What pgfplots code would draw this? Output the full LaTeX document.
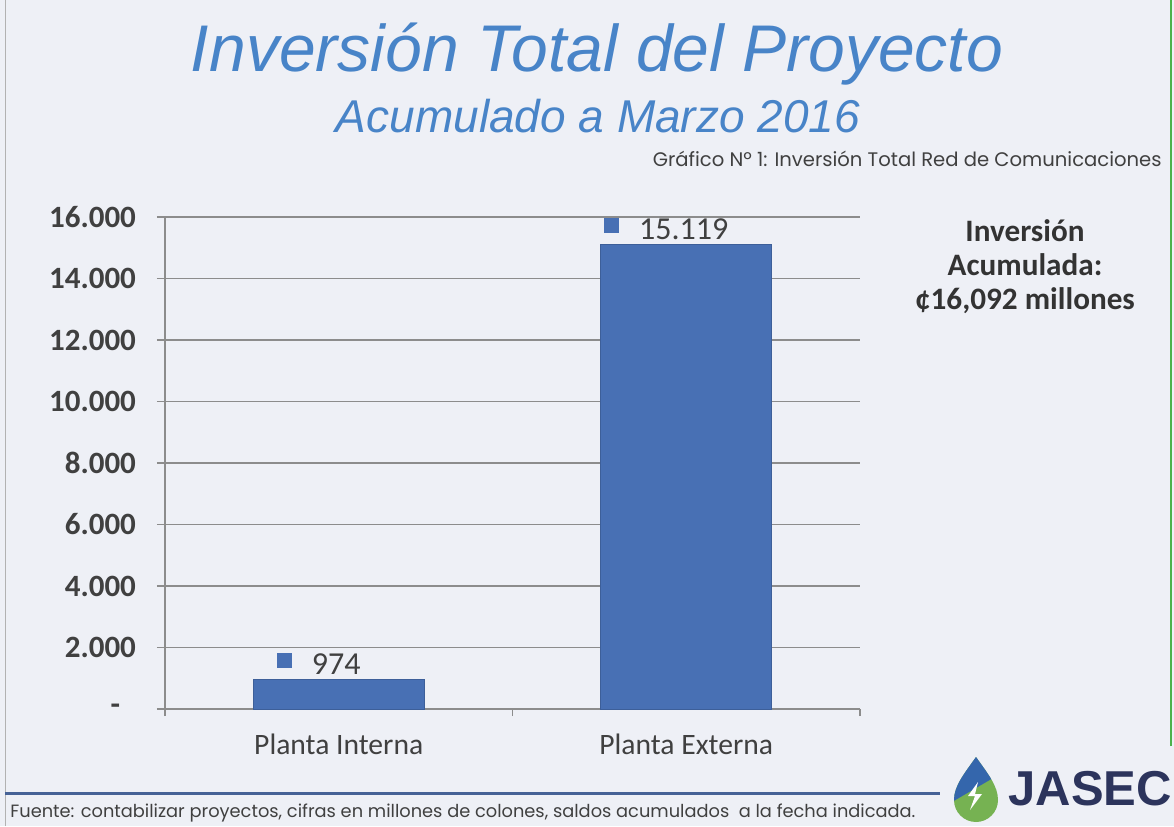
\documentclass[border=0pt]{standalone}
\usepackage{fontspec}
\usepackage{pgfplots}
\pgfplotsset{compat=1.18}
\setmainfont{Carlito}
\newfontfamily\arialf{Liberation Sans}
\newfontfamily\gothic{Poppins}

\definecolor{bgcol}{RGB}{238,240,246}
\definecolor{barblue}{RGB}{72,112,180}
\definecolor{titleblue}{RGB}{72,132,200}
\definecolor{txtgray}{RGB}{64,64,64}
\definecolor{gridgray}{RGB}{140,140,140}
\definecolor{linenavy}{RGB}{70,98,150}
\definecolor{jasecnavy}{RGB}{44,52,92}
\definecolor{dropblue}{RGB}{52,102,172}
\definecolor{dropgreen}{RGB}{118,178,82}

\begin{document}
\begin{tikzpicture}
% page background (1 px of the reference = 0.5pt)
\fill[bgcol] (0,0) rectangle (587pt,413pt);
\draw[gray!60, line width=0.5pt] (2.5pt,0) -- (2.5pt,413pt);
\draw[green!40!gray, line width=0.8pt] (585.5pt,40pt) -- (585.5pt,413pt);

% titles
\node[anchor=base, text=titleblue, font=\arialf\itshape\fontsize{33}{38}\selectfont]
  at (298.5pt,377pt) {Inversión Total del Proyecto};
\node[anchor=base, text=titleblue, font=\arialf\itshape\fontsize{23}{27}\selectfont]
  at (299pt,346.5pt) {Acumulado a Marzo 2016};
\node[anchor=base east, inner sep=0pt, text=txtgray, font=\gothic\fontsize{9.8}{11}\selectfont]
  at (581pt,329.5pt) {Gráfico Nº 1: Inversión Total Red de Comunicaciones};

\begin{axis}[
    at={(82.5pt,58.5pt)}, anchor=south west,
    scale only axis,
    width=347.5pt, height=246pt,
    ybar, bar width=85.5pt,
    xmin=0, xmax=2, ymin=0, ymax=16000,
    axis x line*=bottom, axis y line*=left,
    axis line style={gridgray, line width=0.6pt},
    tick align=outside,
    xtick={0.5,1.5},
    xticklabels={Planta Interna, Planta Externa},
    major x tick style={draw=none},
    minor xtick={0,1,2},
    minor tick length=3.5pt,
    minor x tick style={gridgray, line width=0.6pt},
    x tick label style={font=\fontsize{14.8}{16}\selectfont, text=txtgray, yshift=-5pt},
    ytick={0,2000,4000,6000,8000,10000,12000,14000,16000},
    yticklabels={-\hphantom{0},2.000,4.000,6.000,8.000,10.000,12.000,14.000,16.000},
    scaled y ticks=false,
    major tick length=4pt,
    y tick style={gridgray, line width=0.6pt},
    y tick label style={font=\bfseries\fontsize{15.5}{17}\selectfont, text=txtgray, xshift=-7pt},
    ymajorgrids,
    grid style={gridgray, line width=0.6pt},
    /pgf/number format/.cd, 1000 sep={.}, assume math mode=true,
    /pgfplots/.cd,
    nodes near coords={\textcolor{barblue}{\rule[3pt]{7.5pt}{7.5pt}}\hspace{10pt}\pgfmathprintnumber{\pgfplotspointmeta}},
    every node near coord/.append style={anchor=base, yshift=2.5pt, xshift=-10pt,
        font=\fontsize{16}{18}\selectfont, text=txtgray},
    clip=false,
]
\addplot[fill=barblue, draw=barblue!85!black, line width=0.4pt] coordinates {
    (0.5, 974)
    (1.5, 15119)
};
\end{axis}

% side note
\node[align=center, text=txtgray!80!black, font=\bfseries\fontsize{15.6}{17}\selectfont, anchor=base]
  at (512.5pt,292pt) {Inversión};
\node[align=center, text=txtgray!80!black, font=\bfseries\fontsize{15.6}{17}\selectfont, anchor=base]
  at (512.5pt,275pt) {Acumulada:};
\node[align=center, text=txtgray!80!black, font=\bfseries\fontsize{15.6}{17}\selectfont, anchor=base]
  at (512.5pt,258pt) {¢16,092 millones};

% footer
\draw[linenavy, line width=1.5pt] (2.5pt,16.5pt) -- (470pt,16.5pt);
\node[anchor=base west, inner sep=0pt, text=txtgray, font=\gothic\fontsize{8.9}{10}\selectfont]
  at (5pt,4.5pt) {Fuente: contabilizar proyectos, cifras en millones de colones, saldos acumulados \ a la fecha indicada.};

% logo
\begin{scope}
  \clip (488pt,34.5pt) .. controls (482pt,26pt) and (477pt,20pt) .. (477pt,13pt)
        arc[start angle=180, end angle=360, radius=11pt]
        .. controls (499pt,20pt) and (494pt,26pt) .. cycle;
  \fill[dropgreen] (476pt,0pt) rectangle (500pt,36pt);
  \fill[dropblue] (476pt,36pt) -- (476pt,12pt) -- (500pt,26pt) -- (500pt,36pt) -- cycle;
\end{scope}
\fill[white] (489pt,22pt) -- (484pt,15pt) -- (487.5pt,15pt) -- (485pt,8pt) -- (491pt,16pt) -- (487.5pt,16pt) -- cycle;
\node[anchor=base west, inner sep=0pt, text=jasecnavy, font=\arialf\bfseries\fontsize{24.5}{28}\selectfont]
  at (504pt,10.5pt) {JASEC};

\pgfresetboundingbox
\useasboundingbox (0,0) rectangle (587pt,413pt);
\end{tikzpicture}
\end{document}
